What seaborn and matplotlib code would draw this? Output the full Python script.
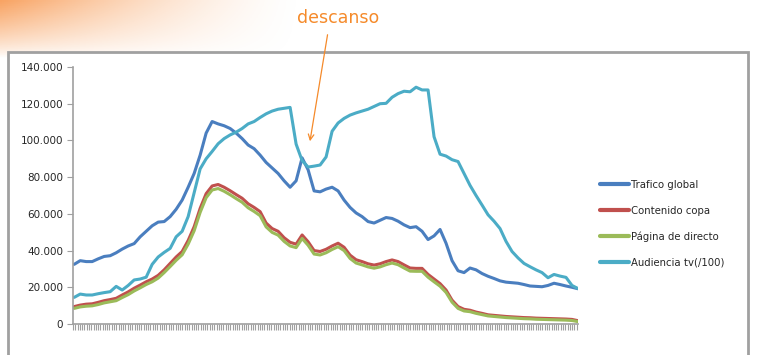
import numpy as np
import pandas as pd
import matplotlib
matplotlib.use("Agg")
import matplotlib.pyplot as plt
import seaborn as sns

# Valores (un punto cada ~6 px del eje x original)
trafico_global = [
    32500, 34500, 34000, 34000, 35500, 36800, 37200, 38800, 40800, 42500,
    43800, 47500, 50500, 53500, 55500, 55800, 58500, 62500, 67500, 74500,
    82000, 92000, 104000, 110300, 109000, 108000, 106500, 104000, 101000, 97500,
    95500, 92000, 88000, 85000, 82000, 78000, 74500, 78000, 90500, 84000,
    72500, 72000, 73500, 74500, 72500, 67500, 63500, 60500, 58500, 55800,
    55000, 56500, 58000, 57500, 56000, 54000, 52500, 53000, 50500, 46000,
    48000, 51500, 44000, 34500, 29000, 28000, 30500, 29500, 27500, 26000,
    24800, 23500, 22800, 22500, 22200, 21500, 20700, 20500, 20300, 21000,
    22200, 21500, 20700, 20000, 19200,
]
contenido_copa = [
    9500, 10300, 10800, 11000, 11800, 12700, 13300, 14000, 15800, 17500,
    19500, 21200, 23000, 24500, 26500, 29500, 33000, 36500, 39500, 45500,
    53000, 63000, 71000, 75200, 76000, 74500, 72600, 70500, 68500, 65500,
    63500, 61200, 55000, 52000, 50500, 47000, 44500, 43500, 48500, 44800,
    40000, 39500, 40700, 42500, 44000, 41800, 37500, 35000, 34000, 32800,
    32100, 32800, 34000, 34900, 34000, 32200, 30500, 30300, 30300, 27000,
    24500, 22000, 18500, 13000, 9500, 8000, 7500, 6500, 5800, 5000,
    4700, 4400, 4100, 3900, 3700, 3500, 3400, 3200, 3100, 3000,
    2900, 2800, 2700, 2500, 1800,
]
pagina_directo = [
    8500, 9300, 9700, 9900, 10600, 11500, 12100, 12700, 14400, 16000,
    18000, 19700, 21500, 23000, 25000, 28000, 31300, 34700, 37700, 43500,
    50800, 60800, 68800, 73000, 73800, 72300, 70400, 68300, 66300, 63300,
    61300, 59000, 52900, 49900, 48400, 45000, 42500, 41600, 46600, 42900,
    38100, 37600, 38800, 40600, 42100, 40000, 35700, 33200, 32200, 31100,
    30400, 31100, 32300, 33200, 32300, 30500, 28800, 28700, 28700, 25500,
    23000, 20600, 17200, 11900, 8500, 7100, 6700, 5800, 5100, 4400,
    4100, 3800, 3500, 3300, 3100, 2900, 2800, 2600, 2500, 2400,
    2300, 2200, 2100, 1900, 1300,
]
audiencia_tv = [
    14500, 16300, 15800, 15800, 16500, 17100, 17600, 20500, 18500, 21000,
    24000, 24500, 25500, 32500, 36500, 39000, 41200, 47500, 50500, 58500,
    71500, 84500, 90000, 94000, 98200, 101000, 103000, 104500, 106500, 109000,
    110300, 112500, 114500, 116000, 117000, 117500, 118000, 98000, 89000, 85500,
    86000, 86600, 91000, 105000, 109500, 112000, 113800, 115000, 116000, 117000,
    118500, 120000, 120200, 123500, 125500, 126800, 126500, 129000, 127500, 127500,
    102000, 92500, 91500, 89500, 88500, 82000, 75500, 70000, 64800, 59500,
    56000, 52000, 45000, 39500, 36000, 33000, 31200, 29500, 28000, 25200,
    27000, 26100, 25400, 21000, 19300,
]

series_names = ["Trafico global", "Contenido copa", "Página de directo", "Audiencia tv(/100)"]
series_colors = ["#4A7EBF", "#C0504D", "#9BBB59", "#4BACC6"]
y_ticks = [0, 20000, 40000, 60000, 80000, 100000, 120000, 140000]

n = len(trafico_global)
df = pd.DataFrame({
    "t": list(range(n)) * 4,
    "valor": trafico_global + contenido_copa + pagina_directo + audiencia_tv,
    "serie": sum([[s] * n for s in series_names], []),
})

sns.set_style("white")
plt.rcParams["font.family"] = ["DejaVu Sans"]

fig = plt.figure(figsize=(7.6, 3.55), dpi=100)

# fondo degradado naranja arriba a la izquierda
bg = fig.add_axes([0, 0, 1, 1], zorder=-10)
gx = np.linspace(0, 1, 380)
gy = np.linspace(0, 1, 180)
X, Y = np.meshgrid(gx, gy)
alpha = np.clip(1 - X / 0.40, 0, 1) ** 1.5 * np.clip(1 - Y / 0.16, 0, 1) ** 0.8
img = np.ones((180, 380, 4))
img[..., 0] = 0.97
img[..., 1] = 0.58
img[..., 2] = 0.28
img[..., 3] = alpha * 0.85
bg.imshow(img, extent=[0, 1, 0, 1], aspect="auto", origin="upper")
bg.set_xlim(0, 1)
bg.set_ylim(0, 1)
bg.axis("off")

# marco gris del gráfico
frame = plt.Rectangle((8 / 760, -0.1), (748 - 8) / 760, 1.1 - 52 / 355,
                      transform=fig.transFigure, fill=True, facecolor="white",
                      edgecolor="#A0A0A0", linewidth=2, zorder=-5)
fig.patches.append(frame)

ax = fig.add_axes([73 / 760, 1 - 324 / 355, (578 - 73) / 760, (324 - 67) / 355])
ax.patch.set_alpha(0)

sns.lineplot(data=df, x="t", y="valor", hue="serie", hue_order=series_names,
             palette=series_colors, linewidth=2.2, ax=ax, legend=True)

ax.set_xlim(-0.2, n - 1)
ax.set_ylim(0, 140000)
ax.set_yticks(y_ticks)
ax.set_yticklabels([f"{v:,}".replace(",", ".") for v in y_ticks], fontsize=7.5)
ax.set_xticks(np.arange(-0.2, n - 1, 0.38))
ax.set_xticklabels([])
ax.set_xlabel("")
ax.set_ylabel("")
ax.tick_params(axis="both", direction="out", length=4, width=0.8, color="#A0A0A0",
               left=True, bottom=True, pad=3)
for s in ["top", "right"]:
    ax.spines[s].set_visible(False)
for s in ["left", "bottom"]:
    ax.spines[s].set_color("#A0A0A0")
    ax.spines[s].set_linewidth(1.2)

leg = ax.legend(loc="center left", bbox_to_anchor=(1.025, 0.39), frameon=False,
                fontsize=7.3, handlelength=2.9, handletextpad=0.15, labelspacing=1.55)
for h in leg.get_lines():
    h.set_linewidth(3)

# anotación "descanso"
fig.text(338 / 760, 1 - 18 / 355, "descanso", color="#F58A2A", fontsize=12.5,
         ha="center", va="center")
fig.add_artist(matplotlib.patches.FancyArrowPatch(
    (328 / 760, 1 - 32 / 355), (309.5 / 760, 1 - 144 / 355),
    transform=fig.transFigure, arrowstyle="->", mutation_scale=10,
    color="#F58A2A", linewidth=0.9))

fig.savefig("out.png", dpi=100)
